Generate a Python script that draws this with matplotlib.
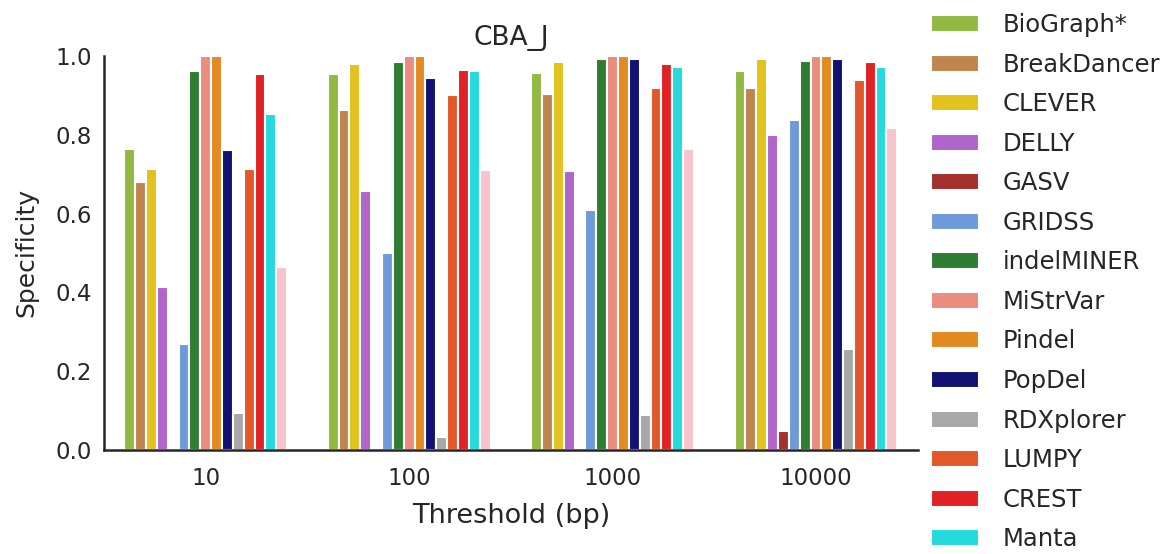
import numpy as np
import matplotlib
matplotlib.use("Agg")
import matplotlib.pyplot as plt

# Thresholds (x categories)
thresholds = ["10", "100", "1000", "10000"]

# Callers shown in the legend, in plotting order
tools = ["BioGraph*", "BreakDancer", "CLEVER", "DELLY", "GASV", "GRIDSS",
         "indelMINER", "MiStrVar", "Pindel", "PopDel", "RDXplorer",
         "LUMPY", "CREST", "Manta"]

# Specificity per caller at each threshold
biograph    = [0.765, 0.953, 0.956, 0.961]
breakdancer = [0.680, 0.862, 0.904, 0.918]
clever      = [0.714, 0.980, 0.984, 0.991]
delly       = [0.414, 0.656, 0.707, 0.799]
gasv        = [0.000, 0.000, 0.000, 0.049]
gridss      = [0.268, 0.499, 0.610, 0.838]
indelminer  = [0.961, 0.984, 0.991, 0.988]
mistrvar    = [1.000, 1.000, 1.000, 1.000]
pindel      = [1.000, 1.000, 1.000, 1.000]
popdel      = [0.761, 0.945, 0.991, 0.991]
rdxplorer   = [0.094, 0.033, 0.088, 0.257]
lumpy       = [0.712, 0.900, 0.918, 0.938]
crest       = [0.953, 0.965, 0.980, 0.984]
manta       = [0.852, 0.961, 0.972, 0.973]
# last caller of the set (its legend row falls below the figure edge)
last_caller = [0.463, 0.710, 0.764, 0.818]

series = [biograph, breakdancer, clever, delly, gasv, gridss, indelminer,
          mistrvar, pindel, popdel, rdxplorer, lumpy, crest, manta, last_caller]
labels = tools + ["_nolegend_"]

colors = ["#93b943", "#c0854f", "#e1c21f", "#b065c8", "#a3302c", "#6f9ad9",
          "#2e7d32", "#ea8c80", "#e38a22", "#121272", "#a8a8a8", "#e2582a",
          "#e02226", "#26d9dc", "#f7c4cc"]

text_color = "#262626"
plt.rcParams.update({
    "font.family": ["DejaVu Sans"],
    "text.color": text_color,
    "axes.labelcolor": text_color,
    "xtick.color": text_color,
    "ytick.color": text_color,
})

fig = plt.figure(figsize=(11.69, 5.54), dpi=100)
ax = fig.add_axes([0.089, 0.188, 0.696, 0.711])

n = len(series)
group_width = 0.8
w = group_width / n
x = np.arange(len(thresholds))
for j, (vals, lab, c) in enumerate(zip(series, labels, colors)):
    offs = -group_width / 2 + w * (j + 0.5)
    ax.bar(x + offs, vals, width=w, color=c, label=lab,
           edgecolor="white", linewidth=1.5)

ax.set_xlim(-0.5, len(thresholds) - 0.5)
ax.set_ylim(0, 1.0)
ax.set_xticks(x)
ax.set_xticklabels(thresholds)
ax.set_yticks([0.0, 0.2, 0.4, 0.6, 0.8, 1.0])
ax.tick_params(axis="both", length=0, labelsize=16.5)
ax.tick_params(axis="x", pad=12)
ax.tick_params(axis="y", pad=9)
ax.set_xlabel("Threshold (bp)", fontsize=19.5, labelpad=9.5)
ax.set_ylabel("Specificity", fontsize=18, labelpad=12)
ax.set_title("CBA_J", fontsize=19, pad=8)

for s in ["top", "right"]:
    ax.spines[s].set_visible(False)
for s in ["left", "bottom"]:
    ax.spines[s].set_color(text_color)
    ax.spines[s].set_linewidth(1.8)

handles, labs = ax.get_legend_handles_labels()
fig.legend(handles, labs, loc="upper left", bbox_to_anchor=(0.7775, 1.016),
           frameon=False, fontsize=17.5, handlelength=2.0,
           handletextpad=0.95, labelspacing=0.64, borderaxespad=0.5)

fig.savefig("out.png", dpi=100)
